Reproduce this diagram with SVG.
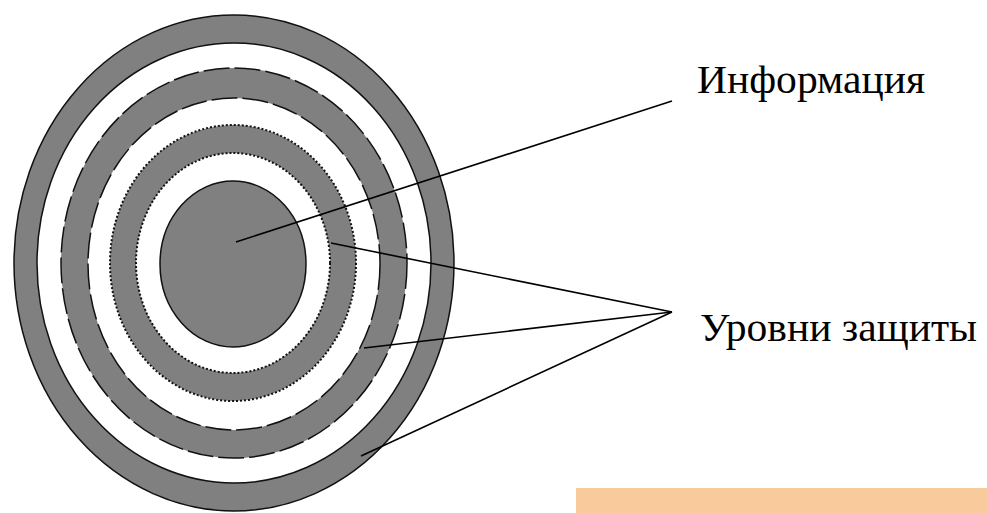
<svg xmlns="http://www.w3.org/2000/svg" width="987" height="513" viewBox="0 0 987 513">
<style>
.ring{fill:#808080;stroke:#111;stroke-width:1.5}
.hole{fill:#fff;stroke:#111;stroke-width:1.5}
.dash{stroke-dasharray:26 5}
.dot{stroke-dasharray:2 2;stroke-width:2}
.lead{fill:none;stroke:#000;stroke-width:1.6}
.lbl{font-family:"Liberation Serif","Times New Roman",serif;font-size:41px;fill:#000}
</style>
<rect width="987" height="513" fill="#fff"/>
<g id="level-outer">
<ellipse class="ring" cx="234" cy="263" rx="220" ry="248"/>
<ellipse class="hole" cx="234" cy="263" rx="197" ry="220"/>
</g>
<g id="level-middle">
<ellipse class="ring dash" cx="234" cy="263" rx="173" ry="195"/>
<ellipse class="hole dash" cx="234" cy="264" rx="146" ry="166"/>
</g>
<g id="level-inner">
<ellipse class="ring dot" cx="233" cy="263" rx="123" ry="138"/>
<ellipse class="hole dot" cx="233" cy="263" rx="97" ry="110"/>
</g>
<g id="information-core">
<ellipse class="ring" cx="233" cy="264" rx="73" ry="83"/>
</g>
<g id="connectors">
<line class="lead" x1="236" y1="242" x2="672" y2="101"/>
<line class="lead" x1="331" y1="243" x2="672" y2="312"/>
<line class="lead" x1="364" y1="348" x2="672" y2="312"/>
<line class="lead" x1="361" y1="456" x2="672" y2="312"/>
</g>
<g id="label-information">
<text class="lbl" x="697" y="93" textLength="228" lengthAdjust="spacingAndGlyphs">Информация</text>
</g>
<g id="label-levels">
<text class="lbl" x="700" y="341" textLength="277" lengthAdjust="spacingAndGlyphs">Уровни защиты</text>
</g>
<rect x="576" y="488" width="411" height="25" fill="#F9CB9C"/>
</svg>
